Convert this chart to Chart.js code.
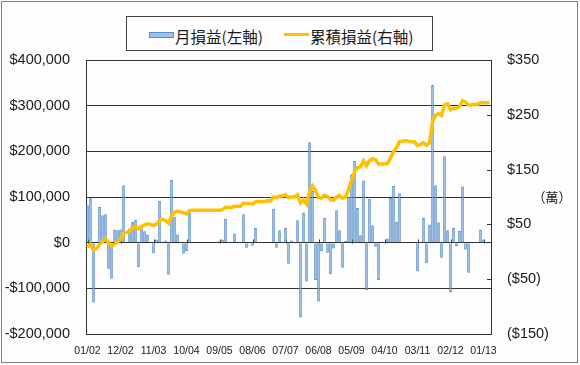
<!DOCTYPE html>
<html>
<head>
<meta charset="utf-8">
<script src="https://cdn.jsdelivr.net/npm/chart.js@4.4.0/dist/chart.umd.min.js"></script>
<style>
  body { margin: 0; background: #fff; }
  #wrap { position: relative; width: 580px; height: 365px; background: #fdfdfd; overflow: hidden; }
  #c { position: absolute; left: 0; top: 0; }
  .frame { position: absolute; left: 1px; top: 1px; width: 575px; height: 360px; border: 1px solid #808080; pointer-events: none; }
  .legend { position: absolute; left: 126px; top: 16px; width: 305px; height: 33px; border: 1px solid #404040; background: #fdfdfd;
            font-family: "Noto Sans CJK TC", "Noto Sans CJK JP", sans-serif; font-size: 15.5px; color: #1a1a1a; }
  .legend span { position: absolute; white-space: nowrap; line-height: 20px; top: 9px; }
  .sw-bar { position: absolute; left: 22px; top: 15px; width: 23px; height: 4px; background: #9DC3E6; border: 1px solid #5B8FC7; }
  .sw-line { position: absolute; left: 157px; top: 16px; width: 25px; height: 3px; background: #FFC000; }
  .unit { position: absolute; left: 532px; top: 188px; width: 40px; text-align: center; line-height: 18px;
          font-family: "Noto Sans CJK TC", sans-serif; font-size: 13px; color: #1a1a1a; }
</style>
</head>
<body>
<div id="wrap">
  <canvas id="c" width="580" height="365"></canvas>
  <div class="legend">
    <div class="sw-bar"></div><span style="left:48px">月損益(左軸)</span>
    <div class="sw-line"></div><span style="left:183px">累積損益(右軸)</span>
  </div>
  <div class="unit">（萬）</div>
  <div class="frame"></div>
</div>
<script>
/* 月損益 / 累積損益 */

var months = [
  "01/02","02/02","03/02","04/02","05/02","06/02","07/02","08/02","09/02","10/02","11/02","12/02",
  "01/03","02/03","03/03","04/03","05/03","06/03","07/03","08/03","09/03","10/03","11/03","12/03",
  "01/04","02/04","03/04","04/04","05/04","06/04","07/04","08/04","09/04","10/04","11/04","12/04",
  "01/05","02/05","03/05","04/05","05/05","06/05","07/05","08/05","09/05","10/05","11/05","12/05",
  "01/06","02/06","03/06","04/06","05/06","06/06","07/06","08/06","09/06","10/06","11/06","12/06",
  "01/07","02/07","03/07","04/07","05/07","06/07","07/07","08/07","09/07","10/07","11/07","12/07",
  "01/08","02/08","03/08","04/08","05/08","06/08","07/08","08/08","09/08","10/08","11/08","12/08",
  "01/09","02/09","03/09","04/09","05/09","06/09","07/09","08/09","09/09","10/09","11/09","12/09",
  "01/10","02/10","03/10","04/10","05/10","06/10","07/10","08/10","09/10","10/10","11/10","12/10",
  "01/11","02/11","03/11","04/11","05/11","06/11","07/11","08/11","09/11","10/11","11/11","12/11",
  "01/12","02/12","03/12","04/12","05/12","06/12","07/12","08/12","09/12","10/12","11/12","12/12",
  "01/13","02/13","03/13"
];

var tickLabels = ["01/02","12/02","11/03","10/04","09/05","08/06","07/07","06/08","05/09","04/10","03/11","02/12","01/13"];

// 月損益 (左軸, $)
var monthly = [
  82000, 99000, -131000, 0, 78000, 60000, 62000, -57000, -79000, 29000, 27000, 29000,
  126000, 0, 31000, 46000, 50000, -54000, 31000, 25000, 18000, 0, -23000, 7000,
  92000, 0, 5000, -70000, 137000, 57000, 18000, 0, -24000, -18000, 66000, 0,
  0, 0, 0, 0, 0, 0, 0, 0, 3000, 7000, 52000, 0,
  0, 20000, 0, 0, 62000, -11000, 0, -7000, 32000, 0, 0, 0,
  0, 0, 74000, -11000, 27000, 0, 32000, -46000, 5000, -2000, 49000, -164000,
  66000, -85000, 220000, 113000, -82000, -129000, -18000, 54000, -22000, -69000, -13000, 71000,
  27000, -55000, 4000, 100000, 150000, 179000, 76000, 16000, 136000, -104000, 96000, 38000,
  -9000, -82000, 0, 0, 9000, 98000, 124000, 46000, 108000, 0, 0, 0,
  0, 0, -63000, 0, 54000, -45000, 40000, 345000, 126000, 44000, -33000, 189000,
  27000, -109000, 32000, -8000, 26000, 123000, -15000, -66000, 0, 0, 0, 29000,
  7000, 0, 0
];

// 累積損益 (右軸, 萬)
var cumulative = [
  8, 14, 3, 6, 13, 19, 24, 17, 10, 14, 18, 22,
  34, 35, 38, 43, 47, 42, 46, 49, 51, 50, 48, 50,
  57, 59, 57, 52, 66, 72, 74, 73, 71, 69, 75, 76,
  76, 76, 76, 76, 76, 76, 76, 76, 76, 77, 81, 81,
  81, 83, 83, 83, 89, 88, 88, 87, 91, 92, 92, 92,
  93, 93, 100, 99, 102, 102, 104, 99, 100, 100, 104, 89,
  95, 87, 109, 120, 112, 99, 98, 103, 101, 95, 94, 100,
  103, 98, 99, 114, 130, 146, 154, 155, 166, 157, 166, 170,
  168, 160, 160, 160, 161, 171, 183, 190, 201, 202, 203, 202,
  201, 201, 194, 196, 199, 194, 199, 237, 249, 252, 249, 268,
  270, 259, 262, 262, 265, 276, 273, 268, 268, 269, 269, 272,
  272, 272, 273
];

var FONT = "'Liberation Sans', Arial, sans-serif";
var TXT = "#1a1a1a";
var LINE = "#333333";

function fmtLeft(v) {
  var s = Math.abs(v).toString().replace(/\B(?=(\d{3})+(?!\d))/g, ",");
  return (v < 0 ? "-$" : "$") + s;
}
function fmtRight(v) {
  return v < 0 ? "($" + (-v) + ")" : "$" + v;
}

var tickMarks = {
  id: "tickMarks",
  beforeDatasetsDraw: function(ch) {
    var c = ch.ctx, a = ch.chartArea, xs = ch.scales.x, ys = ch.scales.y, yr = ch.scales.y1;
    c.save();
    c.strokeStyle = LINE;
    c.lineWidth = 1;
    c.beginPath();
    yr.ticks.forEach(function(t) {
      var py = Math.round(yr.getPixelForValue(t.value)) + 0.5;
      c.moveTo(a.right - 4, py);
      c.lineTo(a.right, py);
    });
    var y0 = Math.round(ys.getPixelForValue(0)) + 0.5;
    months.forEach(function(m, i) {
      if (tickLabels.indexOf(m) < 0) return;
      var px = Math.round(xs.getPixelForValue(i)) + 0.5;
      c.moveTo(px, y0);
      c.lineTo(px, y0 - 4);
    });
    c.stroke();
    c.restore();
  }
};

new Chart(document.getElementById("c"), {
  data: {
    labels: months,
    datasets: [{
      type: "line",
      label: "累積損益(右軸)",
      data: cumulative,
      yAxisID: "y1",
      borderColor: "#FFC000",
      borderWidth: 3.5,
      pointRadius: 0,
      tension: 0,
      order: 0
    }, {
      type: "bar",
      label: "月損益(左軸)",
      data: monthly,
      yAxisID: "y",
      backgroundColor: "#92BDE4",
      borderColor: "#3E7CC0",
      borderWidth: 1,
      barPercentage: 0.85,
      categoryPercentage: 1,
      order: 1
    }]
  },
  options: {
    responsive: false,
    animation: false,
    layout: { padding: { top: 60, left: 0, right: 0, bottom: 0 } },
    plugins: {
      legend: { display: false },
      tooltip: { enabled: false }
    },
    scales: {
      x: {
        grid: { display: false, drawTicks: false },
        border: { display: true, color: LINE },
        ticks: {
          autoSkip: false,
          maxRotation: 0,
          padding: 11,
          color: TXT,
          font: { size: 10.5, family: FONT },
          callback: function(v, i) {
            var l = months[i];
            return tickLabels.indexOf(l) >= 0 ? l : null;
          }
        },
        afterFit: function(s) { s.height = 31; }
      },
      y: {
        position: "left",
        min: -200000,
        max: 400000,
        grid: { color: LINE, drawTicks: false },
        border: { color: LINE },
        ticks: {
          stepSize: 100000,
          padding: 16,
          color: TXT,
          font: { size: 14.5, family: FONT },
          callback: fmtLeft
        },
        afterFit: function(s) { s.width = 86; }
      },
      y1: {
        position: "right",
        min: -150,
        max: 350,
        grid: { drawOnChartArea: false, drawTicks: false },
        border: { color: LINE },
        ticks: {
          stepSize: 100,
          padding: 16,
          color: TXT,
          font: { size: 14.5, family: FONT },
          callback: fmtRight
        },
        afterFit: function(s) { s.width = 89; }
      }
    }
  },
  plugins: [tickMarks]
});
</script>
</body>
</html>
